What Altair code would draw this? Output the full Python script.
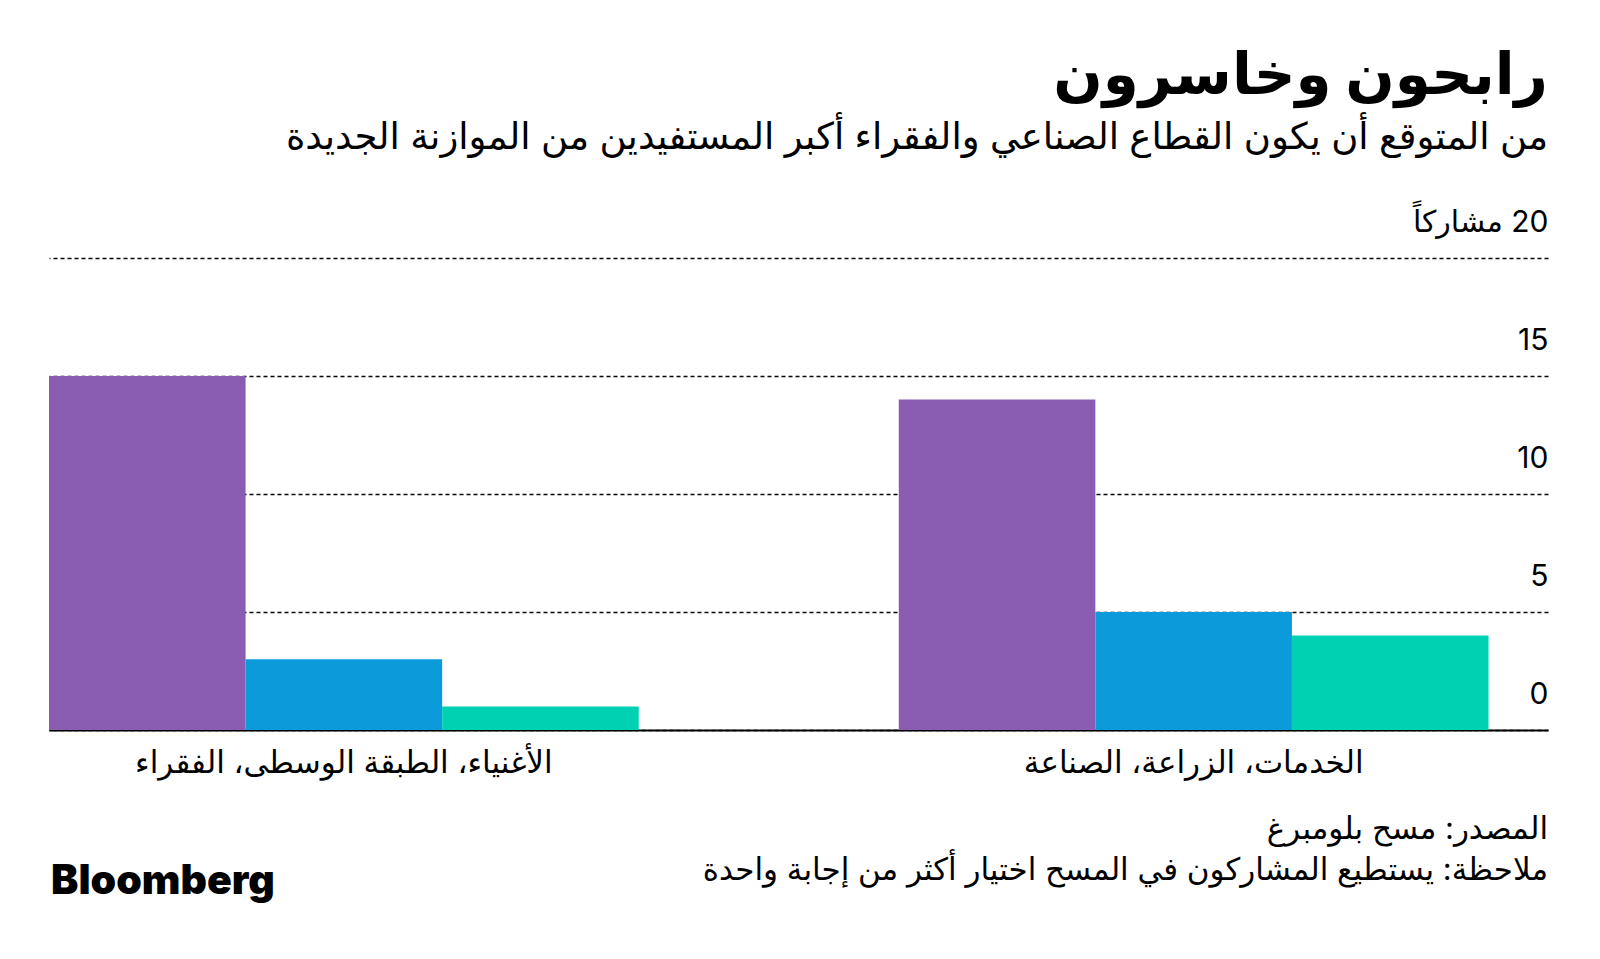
import altair as alt
import pandas as pd

FONT = "Inter, DejaVu Sans, sans-serif"

title_text = "رابحون وخاسرون"
subtitle_text = "من المتوقع أن يكون القطاع الصناعي والفقراء أكبر المستفيدين من الموازنة الجديدة"
source_text = "المصدر: مسح بلومبرغ"
note_text = "ملاحظة: يستطيع المشاركون في المسح اختيار أكثر من إجابة واحدة"
logo_text = "Bloomberg"
unit_text = "مشاركاً"

groups = ["الأغنياء، الطبقة الوسطى، الفقراء", "الخدمات، الزراعة، الصناعة"]
slots = ["1", "2", "3"]
bar_names_people = ["الفقراء", "الطبقة الوسطى", "الأغنياء"]
bar_names_sectors = ["الصناعة", "الزراعة", "الخدمات"]
values_people = [15, 3, 1]
values_sectors = [14, 5, 4]
slot_colors = ["#8A5DB3", "#0B9BDA", "#00D1B3"]
y_ticks = [0, 5, 10, 15, 20]

rows = []
for g, names, vals in [(groups[0], bar_names_people, values_people),
                       (groups[1], bar_names_sectors, values_sectors)]:
    for s, n, v in zip(slots, names, vals):
        rows.append({"group": g, "slot": s, "name": n, "value": v})
df = pd.DataFrame(rows)

label_expr = "datum.value == 20 ? '" + unit_text + " \u200e20' : datum.label"

bars = alt.Chart(df).mark_bar().encode(
    x=alt.X("group:N",
            scale=alt.Scale(domain=groups, paddingInner=0.306, paddingOuter=0.035, align=0),
            axis=alt.Axis(title=None, labelFontSize=31, labelPadding=18, ticks=False, tickSize=0,
                          domainColor="#000", domainWidth=2, labelColor="#000", labelFont=FONT,
                          labelAngle=0, labelLimit=0, labelBaseline="top")),
    xOffset=alt.XOffset("slot:N", scale=alt.Scale(domain=slots, paddingInner=0, paddingOuter=0)),
    y=alt.Y("value:Q", scale=alt.Scale(domain=[0, 20], nice=False),
            axis=alt.Axis(orient="right", values=y_ticks, title=None, ticks=False, tickSize=0,
                          domain=False, grid=True, gridColor="#000", gridDash=[4, 3], gridWidth=1.5,
                          gridOpacity=1,
                          labelAlign="right", labelBaseline="alphabetic", labelPadding=0,
                          labelOffset=-27, labelFontSize=30, labelFont=FONT, labelColor="#000",
                          labelExpr=label_expr)),
    color=alt.Color("slot:N", scale=alt.Scale(domain=slots, range=slot_colors), legend=None),
    tooltip=["name:N", "value:Q"],
)


def text_layer(txt, x, y, size, weight, align):
    return alt.Chart(pd.DataFrame({"t": [txt]})).mark_text(
        align=align, baseline="alphabetic", fontSize=size, fontWeight=weight,
        font=FONT, color="#000"
    ).encode(x=alt.value(x), y=alt.value(y), text="t:N")


W = 1499
layers = [
    bars,
    text_layer(title_text, W, -164, 58, "bold", "right"),
    text_layer(subtitle_text, W, -109, 37, "normal", "right"),
    text_layer(source_text, W, 581, 31, "normal", "right"),
    text_layer(note_text, W, 622, 31, "normal", "right"),
    text_layer(logo_text, 2, 636, 41, 900, "left"),
]

chart = alt.layer(*layers).properties(
    width=W,
    height=472,
    background="#ffffff",
    autosize=alt.AutoSizeParams(type="none"),
    padding={"left": 49, "top": 258, "right": 52, "bottom": 229},
).configure_view(strokeWidth=0, stroke="transparent")

chart.save("out.html", embed_options={"renderer": "svg", "actions": False})
